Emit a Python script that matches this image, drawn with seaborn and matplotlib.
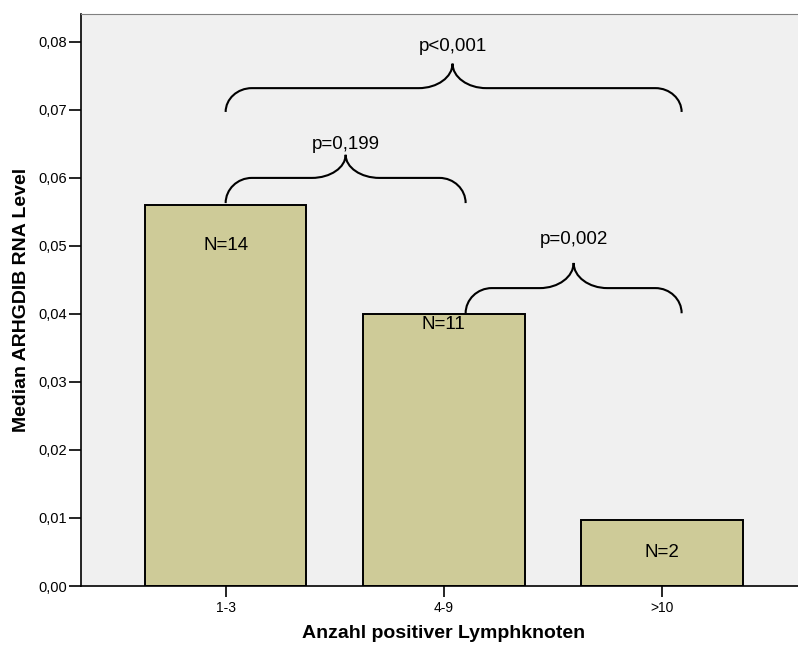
import matplotlib
matplotlib.use('Agg')

import matplotlib.pyplot as plt
import matplotlib.ticker as mticker
import pandas as pd
import seaborn as sns
from matplotlib.path import Path
from matplotlib.patches import PathPatch

groups = ['1-3', '4-9', '>10']
medians = [0.056, 0.040, 0.0097]
counts = [14, 11, 2]
count_y = [0.0500, 0.0385, 0.0049]

# brace: x0, x1, x centre, y end, y flat, y tip, label, label y
braces = [
    (0.00, 2.09, 1.04, 0.0697, 0.0732, 0.0768, 'p<0,001', 0.0793),
    (0.00, 1.10, 0.55, 0.0563, 0.0600, 0.0634, 'p=0,199', 0.0649),
    (1.10, 2.09, 1.595, 0.0401, 0.0438, 0.0475, 'p=0,002', 0.0510),
]


def brace_path(x0, x1, xc, ye, yf, yt, r=0.12, rc=0.155):
    k = 0.55
    verts = [
        (x0, ye),
        (x0, ye + k * (yf - ye)), (x0 + r * (1 - k), yf), (x0 + r, yf),
        (xc - rc, yf),
        (xc - rc * (1 - k), yf), (xc, yt - k * (yt - yf)), (xc, yt),
        (xc, yt - k * (yt - yf)), (xc + rc * (1 - k), yf), (xc + rc, yf),
        (x1 - r, yf),
        (x1 - r * (1 - k), yf), (x1, ye + k * (yf - ye)), (x1, ye),
    ]
    codes = [Path.MOVETO,
             Path.CURVE4, Path.CURVE4, Path.CURVE4,
             Path.LINETO,
             Path.CURVE4, Path.CURVE4, Path.CURVE4,
             Path.CURVE4, Path.CURVE4, Path.CURVE4,
             Path.LINETO,
             Path.CURVE4, Path.CURVE4, Path.CURVE4]
    return Path(verts, codes)


def main():
    sns.set_style('ticks')
    plt.rcParams['font.family'] = ['Liberation Sans', 'DejaVu Sans']
    plt.rcParams['text.color'] = 'black'
    plt.rcParams['axes.labelcolor'] = 'black'
    plt.rcParams['xtick.color'] = 'black'
    plt.rcParams['ytick.color'] = 'black'

    df = pd.DataFrame({'group': groups, 'median': medians})

    fig = plt.figure(figsize=(7.98, 6.48), dpi=100)
    ax = fig.add_axes([81 / 798, 62 / 648, 1 - 81 / 798 + 0.01, (586 - 14) / 648])
    ax.set_facecolor('#f0f0f0')

    sns.barplot(data=df, x='group', y='median', color='#cecb98', saturation=1,
                edgecolor='black', linewidth=1.4, width=0.74, ax=ax)

    for i, (n, yy) in enumerate(zip(counts, count_y)):
        ax.text(i, yy, 'N={}'.format(n), ha='center', va='center', fontsize=13.5)

    for x0, x1, xc, ye, yf, yt, lab, ly in braces:
        ax.add_patch(PathPatch(brace_path(x0, x1, xc, ye, yf, yt),
                               facecolor='none', edgecolor='black', linewidth=1.5))
        ax.text(xc, ly, lab, ha='center', va='center', fontsize=13.5)

    ax.set_xlim(-0.663, 2.66)
    ax.set_ylim(0, 0.0841)
    ax.yaxis.set_major_locator(mticker.MultipleLocator(0.01))
    ax.yaxis.set_major_formatter(mticker.FuncFormatter(lambda v, p: '{:.2f}'.format(v).replace('.', ',')))

    ax.spines['right'].set_visible(False)
    ax.spines['top'].set_color('#808080')
    ax.spines['left'].set_linewidth(1.2)
    ax.spines['bottom'].set_linewidth(1.2)
    ax.spines['left'].set_color('black')
    ax.spines['bottom'].set_color('black')

    ax.tick_params(axis='y', length=8.5, width=1.2, labelsize=10.5, pad=1.5)
    ax.tick_params(axis='x', length=8, width=1.2, labelsize=10, pad=3)

    ax.set_xlabel('Anzahl positiver Lymphknoten', fontsize=14, fontweight='bold', labelpad=7)
    ax.set_ylabel('Median ARHGDIB RNA Level', fontsize=14, fontweight='bold', labelpad=6)

    fig.savefig('out.png', dpi=100)
    plt.close(fig)


if __name__ == '__main__':
    main()
